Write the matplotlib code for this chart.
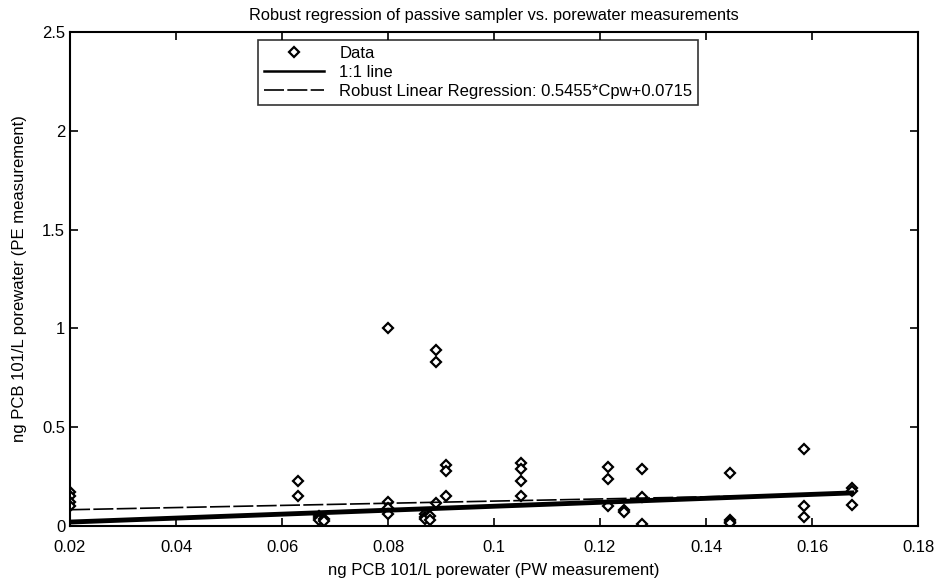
import matplotlib
matplotlib.use("Agg")
import matplotlib.pyplot as plt
import numpy as np

plt.rcParams['font.family'] = ['Liberation Sans', 'DejaVu Sans']

# veri: PW olcumu (x) ve PE olcumu (y)
pw = [0.02, 0.02, 0.02, 0.02,
      0.063, 0.063,
      0.067, 0.067, 0.067, 0.068, 0.068,
      0.080, 0.080, 0.080, 0.080,
      0.087, 0.087, 0.087, 0.088, 0.088,
      0.089, 0.089, 0.089,
      0.091, 0.091, 0.091,
      0.105, 0.105, 0.105, 0.105,
      0.1215, 0.1215, 0.1215,
      0.1245, 0.1245,
      0.128, 0.128, 0.128,
      0.1445, 0.1445, 0.1445, 0.1445,
      0.1585, 0.1585, 0.1585,
      0.1675, 0.1675, 0.1675]
pe = [0.17, 0.15, 0.12, 0.10,
      0.23, 0.15,
      0.05, 0.04, 0.03, 0.035, 0.025,
      1.0, 0.12, 0.09, 0.06,
      0.06, 0.045, 0.035, 0.05, 0.03,
      0.89, 0.83, 0.115,
      0.31, 0.28, 0.15,
      0.32, 0.29, 0.23, 0.15,
      0.30, 0.24, 0.10,
      0.08, 0.07,
      0.29, 0.147, 0.01,
      0.27, 0.03, 0.02, 0.015,
      0.39, 0.10, 0.045,
      0.19, 0.175, 0.105]

egim = 0.5455
kesisim = 0.0715

xr = np.array([min(pw), max(pw)])

fig = plt.figure(figsize=(9.35, 5.84), dpi=100)
ax = fig.add_axes([0.0749, 0.0993, 0.907, 0.8459])

ax.plot(pw, pe, linestyle="none", marker="D", markersize=5, markerfacecolor="white",
        markeredgecolor="black", markeredgewidth=1.6, label="Data")
ax.plot(xr, xr, color="black", linewidth=3.5, label="1:1 line")
ax.plot(xr, egim*xr + kesisim, color="black", linewidth=1.2, linestyle=(0, (12, 2)),
        label="Robust Linear Regression: 0.5455*Cpw+0.0715")

ax.set_xlim(0.02, 0.18)
ax.set_ylim(0, 2.5)
ax.set_xticks([0.02, 0.04, 0.06, 0.08, 0.1, 0.12, 0.14, 0.16, 0.18])
ax.set_xticklabels(["0.02", "0.04", "0.06", "0.08", "0.1", "0.12", "0.14", "0.16", "0.18"])
ax.set_yticks([0, 0.5, 1, 1.5, 2, 2.5])
ax.set_yticklabels(["0", "0.5", "1", "1.5", "2", "2.5"])
ax.tick_params(direction="in", top=True, right=True, length=6, width=1.2, labelsize=12)
ax.tick_params(axis="x", pad=10)
for s in ax.spines.values():
    s.set_linewidth(1.5)

ax.set_title("Robust regression of passive sampler vs. porewater measurements", fontsize=11.8, pad=9)
ax.set_xlabel("ng PCB 101/L porewater (PW measurement)", fontsize=12, labelpad=6)
ax.set_ylabel("ng PCB 101/L porewater (PE measurement)", fontsize=12, labelpad=11)

leg = ax.legend(loc="upper left", bbox_to_anchor=(0.222, 0.984), borderaxespad=0, fontsize=12,
                frameon=True, fancybox=False, edgecolor="black", handlelength=3.6,
                borderpad=0.35, labelspacing=0.25, handletextpad=0.9)
leg.get_frame().set_linewidth(1.2)
leg.get_lines()[1].set_linewidth(1.8)

plt.savefig("out.png", dpi=100)
